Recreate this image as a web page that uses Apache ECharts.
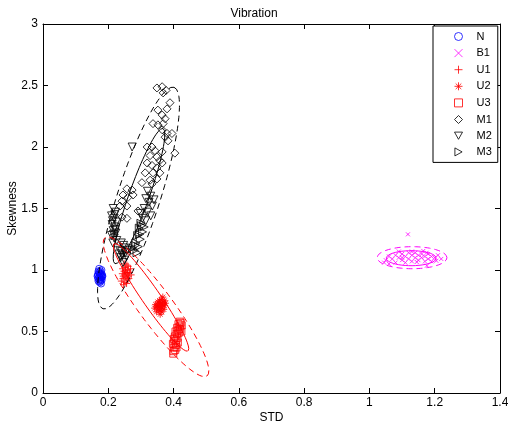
<!DOCTYPE html>
<html>
<head>
<meta charset="utf-8">
<script src="https://cdn.jsdelivr.net/npm/echarts@6/dist/echarts.min.js"></script>
<style>
html, body { margin: 0; padding: 0; background: #fff; }
#chart { width: 508px; height: 428px; }
</style>
</head>
<body>
<div id="chart"></div>
<script>
// Feature space of vibration signals: standard deviation vs. skewness per class.
var classNames = ['N', 'B1', 'U1', 'U2', 'U3', 'M1', 'M2', 'M3'];

var xTicks = [0, 0.2, 0.4, 0.6, 0.8, 1, 1.2, 1.4];
var yTicks = [0, 0.5, 1, 1.5, 2, 2.5, 3];

var pointsN = [
  [0.172, 0.95], [0.175, 0.93], [0.178, 0.97], [0.170, 0.91], [0.180, 0.94],
  [0.176, 0.99], [0.168, 0.96], [0.174, 0.90], [0.181, 0.96], [0.171, 0.98],
  [0.177, 0.92], [0.179, 1.00], [0.173, 0.94], [0.169, 0.93], [0.180, 0.92],
  [0.175, 0.96], [0.178, 0.89], [0.172, 1.01], [0.167, 0.95], [0.182, 0.95],
  [0.174, 0.97], [0.176, 0.91], [0.170, 0.99], [0.179, 0.95], [0.173, 0.92]
];

var pointsB1 = [
  [1.045, 1.06], [1.05, 1.08], [1.06, 1.11], [1.07, 1.09], [1.08, 1.12],
  [1.08, 1.06], [1.09, 1.10], [1.10, 1.13], [1.10, 1.08], [1.11, 1.11],
  [1.11, 1.06], [1.12, 1.14], [1.12, 1.09], [1.13, 1.12], [1.13, 1.07],
  [1.14, 1.10], [1.14, 1.14], [1.15, 1.08], [1.15, 1.12], [1.16, 1.10],
  [1.16, 1.13], [1.17, 1.07], [1.17, 1.11], [1.18, 1.13], [1.18, 1.09],
  [1.19, 1.11], [1.19, 1.07], [1.20, 1.10], [1.21, 1.12], [1.22, 1.09],
  [1.118, 1.29], [1.176, 1.035], [1.06, 1.05], [1.09, 1.15], [1.13, 1.15],
  [1.165, 1.155], [1.10, 1.10], [1.145, 1.065], [1.175, 1.14], [1.205, 1.075]
];

var pointsU1 = [
  [0.255, 0.98], [0.250, 0.96], [0.260, 1.00], [0.245, 0.93], [0.262, 0.95],
  [0.252, 1.02], [0.258, 0.92], [0.248, 0.99], [0.265, 0.98], [0.254, 0.94],
  [0.243, 0.97], [0.257, 1.04], [0.251, 0.90], [0.268, 1.01], [0.246, 0.95],
  [0.259, 0.97], [0.253, 1.00], [0.240, 0.91], [0.263, 0.93], [0.256, 0.89],
  [0.249, 1.05], [0.261, 1.03], [0.247, 0.88], [0.270, 0.96], [0.244, 1.01]
];

var pointsU2 = [
  [0.360, 0.71], [0.355, 0.73], [0.365, 0.69], [0.350, 0.70], [0.368, 0.74],
  [0.358, 0.67], [0.362, 0.76], [0.345, 0.72], [0.372, 0.71], [0.353, 0.68],
  [0.366, 0.72], [0.357, 0.75], [0.348, 0.66], [0.370, 0.68], [0.361, 0.73],
  [0.352, 0.74], [0.364, 0.66], [0.375, 0.73], [0.356, 0.70], [0.342, 0.69],
  [0.367, 0.78], [0.359, 0.64], [0.373, 0.75], [0.349, 0.71], [0.363, 0.70]
];

var pointsU3 = [
  [0.400, 0.34], [0.402, 0.37], [0.398, 0.40], [0.405, 0.35], [0.403, 0.42],
  [0.401, 0.44], [0.407, 0.39], [0.404, 0.46], [0.408, 0.43], [0.410, 0.48],
  [0.406, 0.50], [0.412, 0.45], [0.414, 0.51], [0.411, 0.53], [0.416, 0.49],
  [0.418, 0.54], [0.420, 0.52], [0.415, 0.56], [0.422, 0.57], [0.425, 0.55],
  [0.419, 0.58], [0.424, 0.50], [0.399, 0.32], [0.409, 0.37], [0.413, 0.41]
];

var pointsM1 = [
  [0.349, 2.48], [0.365, 2.49], [0.377, 2.46], [0.368, 2.44], [0.389, 2.36],
  [0.352, 2.30], [0.380, 2.31], [0.365, 2.26], [0.374, 2.23], [0.337, 2.19],
  [0.352, 2.18], [0.368, 2.19], [0.365, 2.14], [0.380, 2.11], [0.395, 2.11],
  [0.374, 2.08], [0.383, 2.05], [0.404, 1.95], [0.319, 2.00], [0.334, 2.00],
  [0.343, 1.97], [0.328, 1.93], [0.349, 1.92], [0.365, 1.96], [0.358, 1.89],
  [0.319, 1.87], [0.334, 1.85], [0.349, 1.83], [0.365, 1.87], [0.313, 1.79],
  [0.337, 1.79], [0.358, 1.79], [0.303, 1.71], [0.328, 1.73], [0.257, 1.66],
  [0.273, 1.65], [0.245, 1.61], [0.260, 1.59], [0.276, 1.61], [0.242, 1.56],
  [0.257, 1.52], [0.236, 1.52], [0.242, 1.43], [0.257, 1.42], [0.291, 1.48],
  [0.334, 1.70], [0.349, 1.74]
];

var pointsM2 = [
  [0.215, 1.50], [0.222, 1.47], [0.210, 1.44], [0.218, 1.42], [0.225, 1.39],
  [0.212, 1.37], [0.220, 1.35], [0.215, 1.32], [0.223, 1.30], [0.210, 1.28],
  [0.218, 1.26], [0.226, 1.24], [0.214, 1.22], [0.220, 1.45], [0.213, 1.40],
  [0.221, 1.33], [0.216, 1.29],
  [0.240, 1.22], [0.248, 1.18], [0.235, 1.16], [0.252, 1.14], [0.243, 1.12],
  [0.238, 1.10], [0.250, 1.08], [0.245, 1.06], [0.256, 1.11], [0.233, 1.13],
  [0.247, 1.20], [0.258, 1.16], [0.241, 1.15],
  [0.273, 2.00],
  [0.320, 1.64], [0.330, 1.60], [0.315, 1.58], [0.325, 1.55], [0.335, 1.52],
  [0.310, 1.50], [0.320, 1.47], [0.330, 1.44], [0.305, 1.42], [0.315, 1.40],
  [0.340, 1.57], [0.298, 1.46]
];

var pointsM3 = [
  [0.300, 1.38], [0.295, 1.34], [0.305, 1.31], [0.290, 1.28], [0.298, 1.25],
  [0.285, 1.22], [0.292, 1.19], [0.280, 1.16], [0.288, 1.14], [0.302, 1.36],
  [0.283, 1.20], [0.296, 1.29], [0.310, 1.35], [0.275, 1.18]
];

// Confidence ellipses: centre, first half-diameter, conjugate half-diameter (data units).
var ellipseCentres = [[0.2926, 1.585], [0.2941, 1.601], [0.3462, 0.701], [0.3309, 0.778], [1.1305, 1.100], [1.128, 1.096]];
var ellipseMajor   = [[0.1088, 0.9006], [0.0735, 0.550], [0.1563, -0.5623], [0.1134, -0.436], [0.107, 0], [0.0766, 0]];
var ellipseMinor   = [[0.0625, -0.053], [0.029, -0.027], [0.042, 0.0823], [0.0227, 0.0416], [0, 0.0896], [0, 0.061]];
var ellipseGroup   = ['M', 'M', 'U', 'U', 'B1', 'B1'];
var ellipseDashed  = [true, false, true, false, true, false];

var FONT = 'Liberation Sans, Arial, Helvetica, sans-serif';
var groupColour = { M: '#000000', U: '#ff0000', B1: '#ff00ff' };

function ellipseOutline(c, u, v) {
  var pts = [];
  for (var k = 0; k <= 90; k++) {
    var t = k / 90 * 2 * Math.PI;
    pts.push([c[0] + u[0] * Math.cos(t) + v[0] * Math.sin(t),
              c[1] + u[1] * Math.cos(t) + v[1] * Math.sin(t)]);
  }
  return pts;
}

var SYM_PLUS = 'path://M5,0L5,10M0,5L10,5';
var SYM_CROSS = 'path://M0,0L10,10M10,0L0,10';
var SYM_STAR = 'path://M5,0L5,10M0,5L10,5M1.5,1.5L8.5,8.5M8.5,1.5L1.5,8.5';
var SYM_TRI_DOWN = 'path://M0,0L10,0L5,9Z';
var SYM_TRI_RIGHT = 'path://M0,0L9,5L0,10Z';

function scatter(name, data, symbol, size, colour) {
  return {
    type: 'scatter',
    name: name,
    data: data,
    symbol: symbol,
    symbolSize: size,
    itemStyle: { color: 'none', borderColor: colour, borderWidth: 1 },
    emphasis: { disabled: true },
    z: 3
  };
}

var series = [
  scatter('N', pointsN, 'circle', 7, '#0000ff'),
  scatter('B1', pointsB1, SYM_CROSS, 4, '#ff00ff'),
  scatter('U1', pointsU1, SYM_PLUS, 7, '#ff0000'),
  scatter('U2', pointsU2, SYM_STAR, 7, '#ff0000'),
  scatter('U3', pointsU3, 'rect', 7, '#ff0000'),
  scatter('M1', pointsM1, 'diamond', 8, '#000000'),
  scatter('M2', pointsM2, SYM_TRI_DOWN, 8, '#000000'),
  scatter('M3', pointsM3, SYM_TRI_RIGHT, 8, '#000000')
];

ellipseCentres.forEach(function (c, i) {
  series.push({
    type: 'line',
    data: ellipseOutline(c, ellipseMajor[i], ellipseMinor[i]),
    showSymbol: false,
    symbol: 'none',
    smooth: false,
    lineStyle: {
      color: groupColour[ellipseGroup[i]],
      width: 1,
      type: ellipseDashed[i] ? [6, 4] : 'solid'
    },
    emphasis: { disabled: true },
    silent: true,
    z: 4
  });
});

var axisLine = { show: true, onZero: false, lineStyle: { color: '#000', width: 1 } };
var axisTick = { show: true, inside: true, length: 5, lineStyle: { color: '#000', width: 1 } };
var labelStyle = { color: '#000', fontSize: 12, fontFamily: FONT };

var chart = echarts.init(document.getElementById('chart'), null, { renderer: 'canvas' });
chart.setOption({
  animation: false,
  backgroundColor: '#fff',
  title: {
    text: 'Vibration',
    left: 'center',
    top: 3,
    textStyle: { color: '#000', fontSize: 12, fontWeight: 'normal', fontFamily: FONT }
  },
  grid: { left: 43, right: 8, top: 24, bottom: 35, containLabel: false, outerBoundsMode: 'none' },
  legend: {
    data: classNames,
    orient: 'vertical',
    left: 433,
    top: 26,
    padding: [4, 6, 4, 19],
    itemWidth: 8,
    itemHeight: 8,
    itemGap: 3.6,
    itemStyle: { borderWidth: 1 },
    backgroundColor: '#fff',
    borderColor: '#000',
    borderWidth: 1,
    borderRadius: 0,
    selectedMode: false,
    textStyle: { color: '#000', fontSize: 11, fontFamily: FONT, lineHeight: 12, padding: [0, 0, 0, 9] }
  },
  xAxis: [
    {
      type: 'value', min: xTicks[0], max: xTicks[xTicks.length - 1], interval: 0.2,
      position: 'bottom',
      axisLine: axisLine, axisTick: axisTick,
      axisLabel: Object.assign({ margin: 4 }, labelStyle),
      splitLine: { show: false },
      name: 'STD', nameLocation: 'middle', nameGap: 19, nameMoveOverlap: false,
      nameTextStyle: labelStyle
    },
    {
      type: 'value', min: xTicks[0], max: xTicks[xTicks.length - 1], interval: 0.2,
      position: 'top',
      axisLine: axisLine, axisTick: axisTick,
      axisLabel: { show: false }, splitLine: { show: false }
    }
  ],
  yAxis: [
    {
      type: 'value', min: yTicks[0], max: yTicks[yTicks.length - 1], interval: 0.5,
      position: 'left',
      axisLine: axisLine, axisTick: axisTick,
      axisLabel: Object.assign({ margin: 5 }, labelStyle),
      splitLine: { show: false },
      name: 'Skewness', nameLocation: 'middle', nameGap: 24, nameMoveOverlap: false,
      nameTextStyle: labelStyle
    },
    {
      type: 'value', min: yTicks[0], max: yTicks[yTicks.length - 1], interval: 0.5,
      position: 'right',
      axisLine: axisLine, axisTick: axisTick,
      axisLabel: { show: false }, splitLine: { show: false }
    }
  ],
  series: series
});
</script>
</body>
</html>
